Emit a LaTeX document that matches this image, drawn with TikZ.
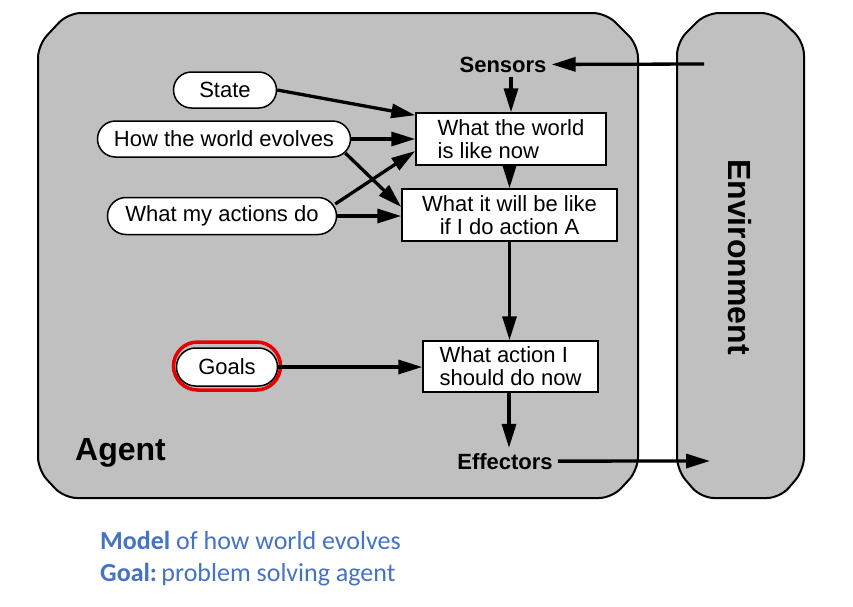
\documentclass[tikz,border=0pt]{standalone}
\usepackage{fontspec}
\setmainfont{Liberation Sans}
\newfontfamily\calib{Carlito}
\usetikzlibrary{arrows.meta,shapes.misc}
\definecolor{panelgray}{RGB}{192,192,192}
\definecolor{noteblue}{RGB}{68,114,196}
\definecolor{ringred}{RGB}{230,0,0}
\tikzset{
  panel/.style={draw=black, line width=2pt, fill=panelgray, rounded corners=13pt},
  pill/.style={draw=black, line width=1.5pt, fill=white, rounded rectangle, inner sep=0pt,
    font=\fontsize{22}{23}\selectfont},
  ring/.style={draw=ringred, line width=3.5pt, rounded rectangle, inner sep=0pt},
  stepbox/.style={draw=black, line width=1.5pt, fill=white, inner sep=0pt,
    font=\fontsize{22}{23}\selectfont},
  io/.style={font=\fontsize{22}{23}\selectfont\bfseries, inner sep=5pt},
  arr/.style={line width=3.3pt, -{Triangle[length=24pt,width=14pt]}},
}
\begin{document}
\begin{tikzpicture}[x=1pt,y=-1pt]
\useasboundingbox (0,0) rectangle (853,606);
% panels
\draw[panel] (38,250) -- (38,45) -- (68,13) -- (606,13) -- (638,45) -- (638,470) -- (612,498) -- (64,498) -- (38,470) -- cycle;
\draw[panel] (677,250) -- (677,42) -- (706,13) -- (774,13) -- (804,42) -- (804,470) -- (780,498) -- (701,498) -- (677,470) -- cycle;
\node[rotate=-90, font=\fontsize{32}{34}\selectfont\bfseries] (envlabel) at (740,257) {Environment};
\node[anchor=base west, inner sep=0pt, font=\fontsize{32}{34}\selectfont\bfseries] (agentlabel) at (75,460) {Agent};
% sensors / effectors
\node[io, anchor=base] (sensors) at (503,72) {Sensors};
\node[io, anchor=base] (effectors) at (505,469) {Effectors};
\coordinate (envin) at (704,64);
\coordinate (envout) at (710,461);
% knowledge pills
\node[pill, minimum width=103pt, minimum height=36pt] (state) at (225,90) {State};
\node[pill, minimum width=253pt, minimum height=36pt] (evolves) at (224,139) {How the world evolves};
\node[pill, minimum width=229pt, minimum height=37pt] (actions) at (222,216) {What my actions do};
\node[ring, minimum width=107pt, minimum height=48pt] (goalsring) at (227,366) {};
\node[pill, minimum width=101pt, minimum height=38pt] (goals) at (227,367) {Goals};
% boxes
\node[stepbox, minimum width=190pt, minimum height=52pt, align=left] (now) at (511,139) {What the world\\is like now};
\node[stepbox, minimum width=215pt, minimum height=52pt, align=center] (will) at (509.5,215) {What it will be like\\if I do action A};
\node[stepbox, minimum width=175pt, minimum height=51pt, align=left] (act) at (510.5,366.5) {What action I\\should do now};
% connectors
\draw[arr] (envin) -- (sensors.east);
\draw[arr] (now.north |- sensors.south) -- (now.north);
\draw[arr] ([xshift=-1.5pt]now.south) -- (will.north);
\draw[arr] (will.south) -- (will.south |- act.north);
\draw[arr] ([xshift=-1.5pt]act.south) -- ([xshift=-1.5pt]act.south |- effectors.north);
\draw[arr] (effectors.east) -- (envout);
\draw[arr] (state.east) -- ([yshift=-3pt]now.north west);
\draw[arr] (evolves.east) -- (now.west);
\draw[arr] ([shift={(-6,14)}]evolves.east) -- ([shift={(0,-8)}]will.west);
\draw[arr] ([shift={(-2,-12)}]actions.east) -- ([shift={(0,12)}]now.west);
\draw[arr] (actions.east) -- (actions.east -| will.west);
\draw[arr] (goals.east) -- (goals.east -| act.west);
% notes
\node[anchor=base west, inner sep=0pt, text=noteblue, font=\calib\fontsize{26}{32}\selectfont] (note1) at (100,549) {\textbf{Model} of how world evolves};
\node[anchor=base west, inner sep=0pt, text=noteblue, font=\calib\fontsize{26}{32}\selectfont] (note2) at (100,581) {\textbf{Goal:}\,problem solving agent};
\end{tikzpicture}
\end{document}
